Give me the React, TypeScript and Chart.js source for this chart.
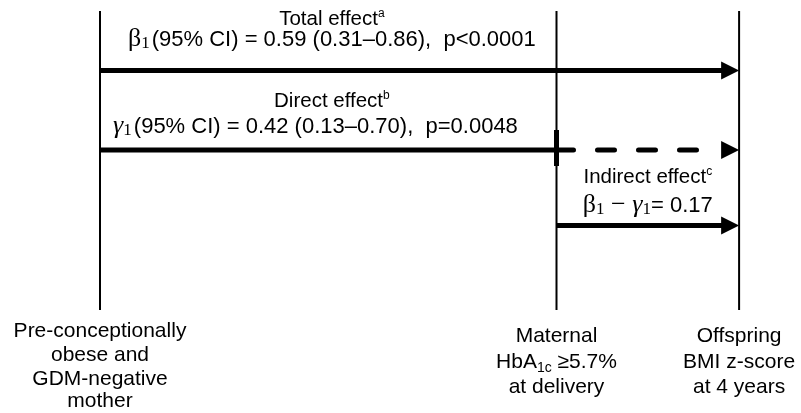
import React, { useEffect, useRef } from "react";
import { Chart, registerables } from "chart.js";

Chart.register(...registerables);

// ---------- data ----------
const stageNames = [
  "Pre-conceptionally obese and GDM-negative mother",
  "Maternal HbA1c ≥5.7% at delivery",
  "Offspring BMI z-score at 4 years",
];
const stageX = [0, 1, 1.4];
const stageLabelLines: string[][] = [
  ["Pre-conceptionally", "obese and", "GDM-negative", "mother"],
  ["Maternal", "HbA_{1c} ≥5.7%", "at delivery"],
  ["Offspring", "BMI z-score", "at 4 years"],
];

const effectNames = ["Total effect", "Direct effect", "Indirect effect"];
const effectNotes = ["a", "b", "c"];
const effectFrom = [0, 0, 1];
const effectTo = [2, 2, 2];
const effectEstimates = [0.59, 0.42, 0.17];
const ciLower = [0.31, 0.13];
const ciUpper = [0.86, 0.7];
const pValueLabels = ["p<0.0001", "p=0.0048"];
const mediatorStage = 1;

// ---------- layout / style ----------
const X_MIN = -100 / 456.5;
const X_MAX = 701 / 456.5;
const rowY = [70.5, 150, 225.5];
const stageTop = 11;
const stageBottom = 310;
const tickTop = 130;
const tickBottom = 166;
const ARROW_LEN = 18;
const ARROW_HALF = 9;
const ARROW_UNITS = 17 / 456.5;
const DASH_END_UNITS = 34 / 456.5;
const textPos = [
  { x1: 0.508, y1: 25, x2: 0.508, y2: 46 },
  { x1: 0.508, y1: 107, x2: 0.472, y2: 133 },
  { x1: 1.2, y1: 183, x2: 1.2, y2: 212 },
];
const stageLabelBaselines = [
  [337, 361, 385, 407],
  [342, 368, 393],
  [342, 368, 393],
];
const SANS = "'Liberation Sans', Arial, sans-serif";
const SERIF = "'Liberation Serif', 'DejaVu Serif', serif";
const MAIN1 = `20.5px ${SANS}`;
const MAIN2 = `22px ${SANS}`;
const LABEL = `21px ${SANS}`;
const GREEK = `26px ${SERIF}`;
const GREEK_IT = `italic 26px ${SERIF}`;
const SUB_SERIF = `17px ${SERIF}`;
const SUP = `12px ${SANS}`;

type Seg = { t: string; f: string; dy?: number; gap?: number };

function drawRich(ctx: CanvasRenderingContext2D, segs: Seg[], cx: number, baseline: number) {
  let total = 0;
  const widths = segs.map((s) => {
    ctx.font = s.f;
    const w = ctx.measureText(s.t).width + (s.gap || 0);
    total += w;
    return w;
  });
  let x = cx - total / 2;
  ctx.textAlign = "left";
  ctx.textBaseline = "alphabetic";
  segs.forEach((s, i) => {
    ctx.font = s.f;
    ctx.fillText(s.t, x, baseline + (s.dy || 0));
    x += widths[i];
  });
}

function labelSegs(line: string): Seg[] {
  const m = line.match(/^(.*)_\{(.*)\}(.*)$/);
  if (!m) return [{ t: line, f: LABEL }];
  return [
    { t: m[1], f: LABEL },
    { t: m[2], f: `14px ${SANS}`, dy: 4 },
    { t: m[3], f: LABEL },
  ];
}

const diagramPlugin = {
  id: "diagramText",
  afterDatasetsDraw(chart: any) {
    const ctx: CanvasRenderingContext2D = chart.ctx;
    const xs = chart.scales.x;
    const ys = chart.scales.y;
    ctx.save();
    ctx.fillStyle = "#000";
    // arrowheads
    effectNames.forEach((_, i) => {
      const tipX = xs.getPixelForValue(stageX[effectTo[i]]);
      const y = ys.getPixelForValue(rowY[i]);
      ctx.beginPath();
      ctx.moveTo(tipX, y);
      ctx.lineTo(tipX - ARROW_LEN, y - ARROW_HALF);
      ctx.lineTo(tipX - ARROW_LEN, y + ARROW_HALF);
      ctx.closePath();
      ctx.fill();
    });
    // effect texts
    const fmt = (v: number) => v.toFixed(2);
    effectNames.forEach((name, i) => {
      const p = textPos[i];
      drawRich(
        ctx,
        [
          { t: name, f: MAIN1 },
          { t: effectNotes[i], f: SUP, dy: -8 },
        ],
        xs.getPixelForValue(p.x1),
        ys.getPixelForValue(p.y1)
      );
      let line2: Seg[];
      if (i < 2) {
        line2 = [
          { t: i === 0 ? "β" : "γ", f: i === 0 ? GREEK : GREEK_IT },
          { t: "1", f: SUB_SERIF, dy: 2, gap: 2 },
          {
            t: `(95% CI) = ${fmt(effectEstimates[i])} (${fmt(ciLower[i])}–${fmt(ciUpper[i])}),  ${pValueLabels[i]}`,
            f: MAIN2,
          },
        ];
      } else {
        line2 = [
          { t: "β", f: GREEK },
          { t: "1", f: SUB_SERIF, dy: 2 },
          { t: " − ", f: GREEK },
          { t: "γ", f: GREEK_IT },
          { t: "1", f: SUB_SERIF, dy: 2 },
          { t: `= ${fmt(effectEstimates[i])}`, f: MAIN2 },
        ];
      }
      drawRich(ctx, line2, xs.getPixelForValue(p.x2), ys.getPixelForValue(p.y2));
    });
    // stage labels
    stageLabelLines.forEach((lines, s) => {
      const cx = xs.getPixelForValue(stageX[s]);
      lines.forEach((ln, j) => {
        drawRich(ctx, labelSegs(ln), cx, ys.getPixelForValue(stageLabelBaselines[s][j]));
      });
    });
    ctx.restore();
  },
};

export default function App() {
  const ref = useRef<HTMLCanvasElement | null>(null);
  useEffect(() => {
    if (!ref.current) return;
    const base = {
      showLine: true,
      borderColor: "#000",
      backgroundColor: "#000",
      pointRadius: 0,
      clip: false as any,
      borderCapStyle: "butt" as const,
    };
    const datasets: any[] = [];
    stageNames.forEach((n, i) => {
      datasets.push({
        ...base,
        label: n,
        borderWidth: 2,
        data: [
          { x: stageX[i], y: stageTop },
          { x: stageX[i], y: stageBottom },
        ],
      });
    });
    // total effect
    datasets.push({
      ...base,
      label: effectNames[0],
      borderWidth: 5,
      data: [
        { x: stageX[effectFrom[0]], y: rowY[0] },
        { x: stageX[effectTo[0]] - ARROW_UNITS, y: rowY[0] },
      ],
    });
    // direct effect: solid to mediator, dashed beyond
    datasets.push({
      ...base,
      label: effectNames[1],
      borderWidth: 5,
      data: [
        { x: stageX[effectFrom[1]], y: rowY[1] },
        { x: stageX[mediatorStage], y: rowY[1] },
      ],
    });
    datasets.push({
      ...base,
      label: effectNames[1] + " (dashed)",
      borderWidth: 5,
      borderDash: [17, 24],
      borderCapStyle: "round",
      data: [
        { x: stageX[mediatorStage], y: rowY[1] },
        { x: stageX[effectTo[1]] - DASH_END_UNITS, y: rowY[1] },
      ],
    });
    datasets.push({
      ...base,
      label: "mediator tick",
      borderWidth: 5,
      data: [
        { x: stageX[mediatorStage], y: tickTop },
        { x: stageX[mediatorStage], y: tickBottom },
      ],
    });
    // indirect effect
    datasets.push({
      ...base,
      label: effectNames[2],
      borderWidth: 5,
      data: [
        { x: stageX[effectFrom[2]], y: rowY[2] },
        { x: stageX[effectTo[2]] - ARROW_UNITS, y: rowY[2] },
      ],
    });

    const chart = new Chart(ref.current, {
      type: "scatter",
      data: { datasets },
      options: {
        animation: false,
        responsive: false,
        devicePixelRatio: 1,
        layout: { padding: 0 },
        plugins: { legend: { display: false }, tooltip: { enabled: false }, title: { display: false } },
        events: [],
        scales: {
          x: { type: "linear", display: false, min: X_MIN, max: X_MAX },
          y: { type: "linear", display: false, min: 0, max: 413, reverse: true },
        },
      },
      plugins: [diagramPlugin],
    });
    return () => chart.destroy();
  }, []);
  return (
    <div style={{ position: "fixed", left: 0, top: 0, width: 801, height: 413, background: "#fff" }}>
      <canvas ref={ref} width={801} height={413} style={{ display: "block" }} />
    </div>
  );
}
